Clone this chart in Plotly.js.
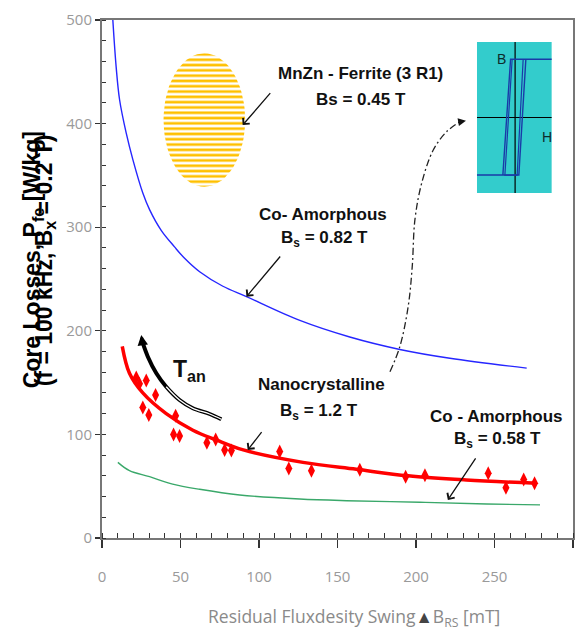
<!DOCTYPE html>
<html><head><meta charset="utf-8">
<script src="https://cdn.plot.ly/plotly-3.0.1.min.js"></script>
<style>html,body{margin:0;padding:0;background:#fff}#chart{width:584px;height:631px}</style>
</head><body><div id="chart"></div>
<script>
// ---- data ----
const blueX = [6.9, 9, 11.2, 15.4, 19.7, 26, 30.3, 37.7, 46.2, 52.6, 62.2, 77, 92, 126, 157.8, 189.7, 221.6, 270.5];
const blueY = [500, 455, 423, 391, 365, 333, 317, 297, 281, 270, 257, 243, 233, 210, 194, 182, 173.5, 164];
const greenX = [10.1, 17.5, 30.3, 45, 62.2, 87.7, 125.9, 155.7, 202.5, 245, 279];
const greenY = [73, 65, 59.2, 52, 47, 41.5, 37.6, 36, 34.5, 32.8, 32];
const fitX = [12.9, 17.5, 26, 40.9, 57.9, 72.8, 90, 128, 162, 195, 232, 277];
const fitY = [185, 159, 140, 120, 104, 94.6, 85, 73, 66.3, 60, 56, 52.8];
const ptsX = [21.8, 23.9, 28.2, 34.1, 26, 29.8, 46.9, 45.6, 49.4, 66.8, 72.4, 78.1, 82.4, 113.2, 119, 133.4, 164.2, 193.4, 205.7, 246, 257.3, 268.6, 275.5];
const ptsY = [155, 149, 152, 138, 126, 118.7, 118, 100, 98.5, 92, 95, 85, 84.5, 83.5, 67, 65, 65.8, 59.2, 60.5, 62.4, 48.5, 56.5, 52.8];
// annealing-temperature arrow path
const tanX = [76, 68.6, 57.9, 49.4, 40.9, 34.6, 29.2, 26];
const tanY = [114.6, 119.7, 125.2, 133.2, 146, 159, 175, 188];
// dash-dot pointer to the inset
const dashX = [183.4, 189.7, 195.0, 197.6, 199.3, 203.6, 211, 219.5, 228];
const dashY = [160.5, 184.7, 223.3, 261.9, 307, 342.4, 374.5, 392.2, 401.8];
// ferrite region (ellipse centre / radii in data units)
const ferrite = {cx: 65.2, cy: 403.5, rx: 26.0, ry: 64.4};
// hysteresis loop in the inset (normalised units)
const loopX = [1, -0.101, -0.307, -1, 0.12, 0.307, 1];
const loopY = [0.771, 0.771, -0.762, -0.762, -0.762, 0.771, 0.771];
const loop2X = [-0.059, -0.253, 0.075, 0.235];
const loop2Y = [0.771, -0.762, -0.762, 0.771];
const insetBoxX = [-1, 1, 1, -1, -1];
const insetBoxY = [-1, -1, 1, 1, -1];

const xTickVals = [0, 50, 100, 150, 200, 250, 300];
const yTickVals = [0, 100, 200, 300, 400, 500];

// ellipse outline
const elX = [], elY = [];
for (let i = 0; i <= 72; i++) {
  const t = i / 72 * 2 * Math.PI;
  elX.push(ferrite.cx + ferrite.rx * Math.cos(t));
  elY.push(ferrite.cy + ferrite.ry * Math.sin(t));
}

const LBL = 'Liberation Sans, Arial';
const traces = [
  {x: elX, y: elY, mode: 'lines', fill: 'toself', line: {width: 0, color: '#FFC000'},
   fillpattern: {shape: '-', fgcolor: '#FFC000', bgcolor: 'rgba(0,0,0,0)', size: 5.3, solidity: 0.5},
   hoverinfo: 'skip'},
  {x: blueX, y: blueY, mode: 'lines', line: {color: '#2626ff', width: 1.4, shape: 'spline'}},
  {x: greenX, y: greenY, mode: 'lines', line: {color: '#3aa86a', width: 1.4, shape: 'spline'}},
  {x: fitX, y: fitY, mode: 'lines', line: {color: '#ff0000', width: 3.5, shape: 'spline'}},
  {x: ptsX, y: ptsY, mode: 'markers', marker: {symbol: 'diamond-tall', size: 10, color: '#ff0000'}},
  {x: tanX, y: tanY, mode: 'lines', line: {color: '#000', width: 4, shape: 'spline'}},
  {x: tanX.slice(0, 5), y: tanY.slice(0, 5), mode: 'lines', line: {color: '#fff', width: 1.3, shape: 'spline'}},
  {x: dashX, y: dashY, mode: 'lines', line: {color: '#222', width: 1.3, dash: '7px,3px,2px,3px', shape: 'spline'}},
  {x: insetBoxX, y: insetBoxY, xaxis: 'x2', yaxis: 'y2', mode: 'lines', fill: 'toself',
   fillcolor: '#33CCCC', line: {width: 0, color: '#33CCCC'}},
  {x: [-1, 1], y: [0, 0], xaxis: 'x2', yaxis: 'y2', mode: 'lines', line: {color: '#000', width: 1.2}},
  {x: [0.02, 0.02], y: [-1, 1], xaxis: 'x2', yaxis: 'y2', mode: 'lines', line: {color: '#000', width: 1.2}},
  {x: loopX, y: loopY, xaxis: 'x2', yaxis: 'y2', mode: 'lines', line: {color: '#1a3aa8', width: 1.4}},
  {x: loop2X, y: loop2Y, xaxis: 'x2', yaxis: 'y2', mode: 'lines', line: {color: '#1a3aa8', width: 1.2}}
];

function lbl(text, x, y, size) {
  return {text: text, x: x, y: y, xref: 'x', yref: 'y', showarrow: false, xanchor: 'center', yanchor: 'middle',
          font: {family: LBL, size: size || 17, color: '#111', weight: 'bold'}};
}
function arr(x, y, ax, ay, head) {
  return {text: '', x: x, y: y, ax: ax, ay: ay, xref: 'x', yref: 'y', axref: 'x', ayref: 'y',
          showarrow: true, arrowhead: head || 4, arrowsize: 1.3, arrowwidth: 1.3, arrowcolor: '#111'};
}

const annotations = [
  lbl('MnZn - Ferrite (3 R1)', 164.7, 448),
  lbl('Bs = 0.45 T', 164.7, 423.4),
  lbl('Co- Amorphous', 140.6, 311.8),
  lbl('B<sub>s</sub> = 0.82 T', 141.9, 288.3),
  lbl('Nanocrystalline', 140, 148.6),
  lbl('B<sub>s</sub> = 1.2 T', 138, 121.9),
  lbl('Co - Amorphous', 251, 117),
  lbl('B<sub>s</sub> = 0.58 T', 252, 94.6),
  lbl('T<sub>an</sub>', 56, 162, 23),
  arr(89.6, 398.6, 108.0, 430.8),
  arr(92.0, 232.9, 114.3, 273.2),
  arr(92.8, 84.9, 102.4, 103.6),
  arr(220.3, 36.7, 238.6, 78.2),
  {text: '', x: 231.8, y: 402.8, ax: 226, ay: 401.2, xref: 'x', yref: 'y', axref: 'x', ayref: 'y',
   showarrow: true, arrowhead: 2, arrowsize: 1.2, arrowwidth: 1.3, arrowcolor: '#111'},
  {text: '', x: 25, y: 196, ax: 26, ay: 186, xref: 'x', yref: 'y', axref: 'x', ayref: 'y',
   showarrow: true, arrowhead: 2, arrowsize: 0.7, arrowwidth: 3, arrowcolor: '#000'},
  {text: 'B', x: -0.34, y: 0.775, xref: 'x2', yref: 'y2', showarrow: false,
   font: {family: 'Liberation Sans, Arial', size: 14, color: '#0d2b2b'}},
  {text: 'H', x: 0.86, y: -0.26, xref: 'x2', yref: 'y2', showarrow: false,
   font: {family: 'Liberation Sans, Arial', size: 14, color: '#0d2b2b'}},
  {text: 'Core Losses, P<sub>fe</sub> [W/kg]', x: -0.1456, y: 0.537, xref: 'paper', yref: 'paper',
   showarrow: false, textangle: -90, xanchor: 'center', yanchor: 'middle',
   font: {family: LBL, size: 23, color: '#000', weight: 'bold'}},
  {text: '(f = 100 kHz, B<sub>x</sub> = 0.2 T)', x: -0.12, y: 0.537, xref: 'paper', yref: 'paper',
   showarrow: false, textangle: -90, xanchor: 'center', yanchor: 'middle',
   font: {family: LBL, size: 23, color: '#000', weight: 'bold'}},
  {text: 'Residual Fluxdesity Swing<span style="color:#444">▲</span>B<sub>RS</sub> [mT]', x: 0.5345, y: -0.154,
   xref: 'paper', yref: 'paper', showarrow: false, xanchor: 'center', yanchor: 'middle',
   font: {family: 'Open Sans', size: 17.5, color: '#8a8a8a'}}
];

const layout = {
  width: 584, height: 631,
  margin: {l: 102, r: 11, t: 20, b: 93},
  paper_bgcolor: '#fff', plot_bgcolor: 'rgba(0,0,0,0)',
  showlegend: false,
  xaxis: {range: [0, 300], tickvals: xTickVals, ticks: 'outside', ticklen: 8, tickcolor: '#333', tickwidth: 1.2,
          showline: true, linecolor: '#777', linewidth: 2, mirror: true, showgrid: false, zeroline: false,
          tickfont: {family: 'Open Sans', size: 15, color: '#9a9a9a'}, ticklabelstandoff: 16,
          minor: {dtick: 10, ticks: 'inside', ticklen: 5, tickcolor: '#333', tickwidth: 1}},
  yaxis: {range: [0, 500], tickvals: yTickVals, ticks: 'outside', ticklen: 5, tickcolor: '#333', tickwidth: 1.2,
          showline: true, linecolor: '#777', linewidth: 2, mirror: true, showgrid: false, zeroline: false,
          tickfont: {family: 'Open Sans', size: 15, color: '#9a9a9a'},
          minor: {dtick: 20, ticks: 'inside', ticklen: 4, tickcolor: '#333', tickwidth: 1}},
  xaxis2: {domain: [0.796, 0.955], range: [-1, 1], anchor: 'y2', visible: false, fixedrange: true},
  yaxis2: {domain: [0.666, 0.9575], range: [-1, 1], anchor: 'x2', visible: false, fixedrange: true},
  annotations: annotations
};

Plotly.newPlot('chart', traces, layout, {displayModeBar: false, staticPlot: true});
</script></body></html>
